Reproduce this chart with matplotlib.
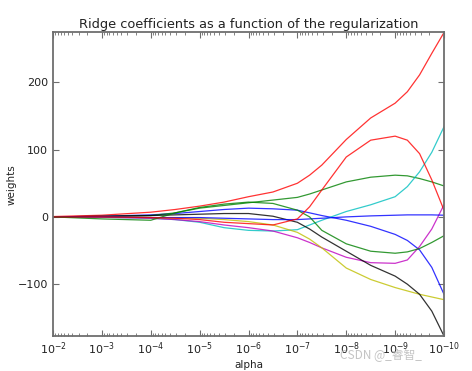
import numpy as np
import matplotlib
matplotlib.use('Agg')
import matplotlib.pyplot as plt
from matplotlib.ticker import LogLocator

alpha_exp = [2, 3, 4, 4.5, 5, 5.5, 6, 6.5, 7, 7.25, 7.5, 8, 8.5, 9, 9.25, 9.5, 9.75, 10]

# coefficient paths, one list per coefficient (classic colour cycle order)
coef_b1 = [0, 1, 3, 5, 8, 11, 13, 12, 10, 6, 2, -5, -14, -26, -35, -49, -75, -115]
coef_g1 = [0, 0.5, 2, 6, 13, 17, 21, 25, 29, 34, 40, 52, 59, 62, 61, 57, 52, 46]
coef_r1 = [0.5, 2.5, 7, 11, 16, 22, 30, 37, 50, 62, 77, 115, 147, 169, 186, 211, 243, 274]
coef_c = [0, -0.5, -2, -4, -8, -16, -20, -21, -19, -12, -5, 8, 18, 30, 45, 67, 96, 134]
coef_m = [0, -0.5, -2, -4, -7, -12, -16, -21, -31, -38, -46, -60, -68, -69, -64, -44, -18, 18]
coef_y = [0, 0, -1, -1.5, -2, -4, -7, -12, -23, -33, -46, -76, -93, -105, -110, -115, -119, -123]
coef_k = [0, 1, 2, 3, 4, 5, 5, 1, -8, -18, -30, -51, -72, -88, -100, -115, -140, -177]
coef_b2 = [0, 0, -1, -1, -1, -2, -3, -4, -4, -3, -2, 0, 1.5, 2.5, 3, 3, 3, 2.5]
coef_g2 = [0, -3, -5, 6, 14, 19, 22, 20, 10, 0, -20, -40, -51, -54, -52, -47, -38, -28]
coef_r2 = [0, 0, -1, -2, -4, -8, -10, -12, -3, 15, 40, 89, 114, 120, 114, 94, 55, 10]

coefs = [coef_b1, coef_g1, coef_r1, coef_c, coef_m, coef_y, coef_k, coef_b2, coef_g2, coef_r2]
colors = ['b', 'g', 'r', 'c', 'm', 'y', 'k', 'b', 'g', 'r']

alphas = 10.0 ** (-np.array(alpha_exp))

fig = plt.figure(figsize=(4.72, 3.71), dpi=100, facecolor='white')
ax = fig.add_axes([0.1123, 0.0943, 0.8284, 0.8181])

for c, col in zip(coefs, colors):
    ax.plot(alphas, c, color=col, linewidth=0.9, alpha=0.8)

ax.set_xscale('log')
ax.set_xlim(1e-2, 1e-10)
all_vals = np.concatenate([np.array(c, dtype=float) for c in coefs])
ax.set_ylim(all_vals.min(), all_vals.max())
ax.set_yticks([-100, 0, 100, 200])
ax.xaxis.set_major_locator(LogLocator(base=10, numticks=20))
ax.xaxis.set_minor_locator(LogLocator(base=10, subs=np.arange(2, 10), numticks=20))

for s in ax.spines.values():
    s.set_color('#6e6e6e')
    s.set_linewidth(1.3)
ax.tick_params(which='both', direction='in', top=True, right=True,
               colors='#6e6e6e', labelcolor='#222222', labelsize=8)
ax.tick_params(which='major', length=4)
ax.tick_params(which='minor', length=2)

ax.set_title('Ridge coefficients as a function of the regularization', fontsize=9.3, color='#222222', pad=3)
ax.set_xlabel('alpha', fontsize=7.5, color='#222222', labelpad=2)
ax.set_ylabel('weights', fontsize=7.5, color='#222222', labelpad=1)

# watermark
fig.text(0.72, 0.035, 'CSDN @_睿智_', fontsize=8.5, color='#c4c4c4',
         family=['Noto Sans CJK SC', 'DejaVu Sans'])

fig.savefig('out.png', dpi=100, facecolor='white')
